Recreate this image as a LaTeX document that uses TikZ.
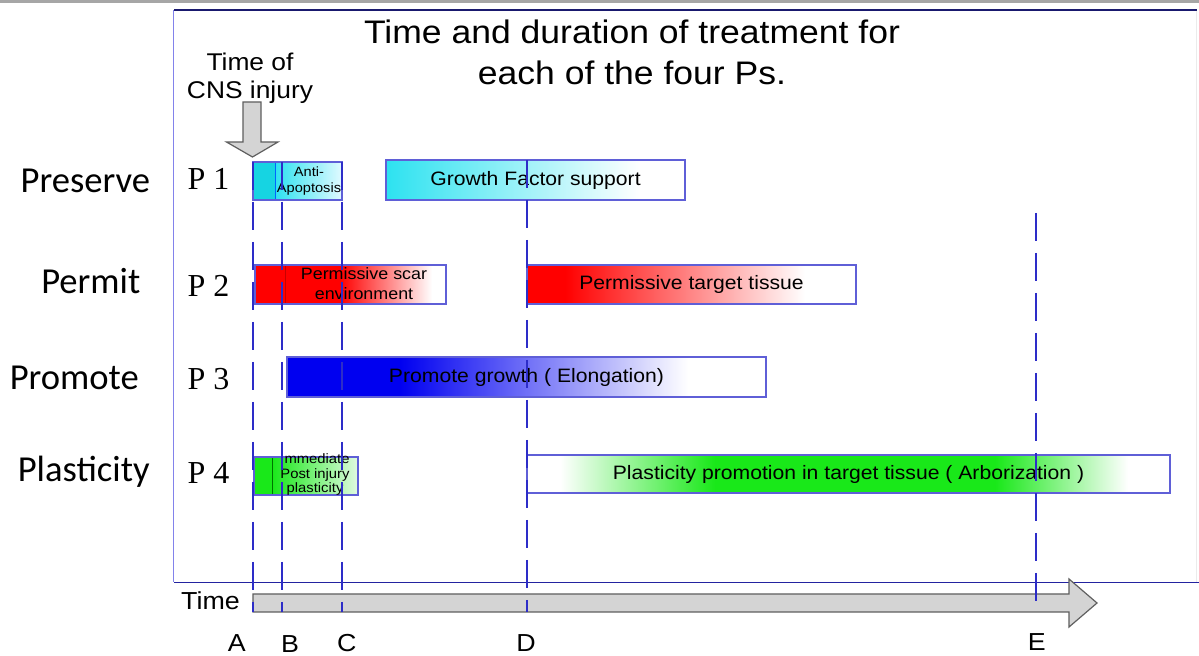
\documentclass[tikz,border=0pt]{standalone}
\usepackage{fontspec}
\setmainfont{Liberation Sans}
\newfontfamily\arialf[FakeStretch=1.09]{Liberation Sans}
\newfontfamily\calibf{Carlito}
\newfontfamily\timesf{Liberation Serif}
\definecolor{framenavy}{RGB}{25,25,110}
\definecolor{frameleft}{RGB}{130,130,235}
\definecolor{framebot}{RGB}{35,35,160}
\definecolor{dashblue}{RGB}{45,45,200}
\definecolor{boxedge}{RGB}{95,95,215}
\definecolor{cyanA}{RGB}{22,212,226}
\definecolor{cyanB}{RGB}{45,226,240}
\definecolor{cyanC}{RGB}{225,250,255}
\definecolor{redA}{RGB}{255,0,0}
\definecolor{darkred}{RGB}{200,0,0}
\definecolor{blueA}{RGB}{0,0,240}
\definecolor{greenA}{RGB}{25,232,25}
\definecolor{greenC}{RGB}{225,250,225}
\definecolor{arrowgray}{RGB}{212,212,212}
\definecolor{arrowedge}{RGB}{95,95,95}
\definecolor{stripgray}{RGB}{166,166,166}
\begin{document}
\begin{tikzpicture}[x=0.5pt,y=-0.5pt,
  bar/.style={draw=boxedge,line width=0.6pt,inner sep=0pt,font=\arialf\fontsize{9.7}{11}\selectfont},
  tline/.style={draw=dashblue,line width=0.9pt,dash pattern=on 14pt off 6pt},
  framel/.style={line width=0.8pt},
  plabel/.style={anchor=base,font=\calibf\fontsize{18.3}{20}\selectfont},
  pnum/.style={anchor=base,font=\timesf\fontsize{16}{18}\selectfont},
  ltr/.style={anchor=base,font=\arialf\fontsize{12.3}{14}\selectfont},
  ttl/.style={anchor=base,font=\arialf\fontsize{16.3}{20}\selectfont},
  cns/.style={anchor=base,font=\arialf\fontsize{12.1}{14}\selectfont},
  blockarrow/.style={fill=arrowgray,draw=arrowedge,line width=0.6pt,line join=miter},
  sepline/.style={line width=0.5pt}
]
\useasboundingbox (0,0) rectangle (1199,656);
\fill[white] (0,0) rectangle (1199,656);
\fill[stripgray] (0,0) rectangle (1199,3.5);

% frame
\draw[framel,draw=framenavy] (174,10) -- (1197,10);
\draw[framel,draw=frameleft] (173.5,10) -- (173.5,582.5);
\draw[framel,draw=framebot] (174,582.5) -- (1199,582.5);
\draw[line width=0.5pt,draw=black!8] (1196.5,11) -- (1196.5,582);

% fills
% P1 anti-apoptosis
\fill[cyanA] (253,162) rectangle (275,200);
\shade[left color=cyanB,right color=cyanC] (275,162) rectangle (342,200);
\draw[sepline,draw=blue!60!cyan] (275,162) -- (275,200);
% growth factor
\shade[left color=cyanB,right color=white] (386,160) rectangle (640,200);
% P2 scar
\fill[redA] (255,265) rectangle (340,304);
\shade[left color=redA,right color=white] (340,265) rectangle (432,304);
\draw[sepline,draw=darkred] (285,265) -- (285,304);
% P2 target
\fill[redA] (527,265) rectangle (565,304);
\shade[left color=redA,right color=white] (565,265) rectangle (805,304);
% P3 promote
\fill[blueA] (287,357) rectangle (400,397);
\shade[left color=blueA,right color=white] (400,357) rectangle (688,397);
% P4 immediate
\fill[greenA] (254,457) rectangle (272,495);
\shade[left color=greenA,right color=greenC] (272,457) rectangle (358,495);
\draw[sepline,draw=green!45!black] (272,457) -- (272,495);
% P4 arborization
\shade[left color=white,right color=greenA] (560,455) rectangle (715,493);
\fill[greenA] (715,455) rectangle (995,493);
\shade[left color=greenA,right color=white] (995,455) rectangle (1128,493);

% bar outlines
\node[bar,minimum width=44.5pt,minimum height=19pt] (antibox) at (297.5,181) {};
\node[bar,minimum width=149.5pt,minimum height=20pt] (gfbox) at (535.5,180) {Growth Factor support};
\node[bar,minimum width=95.5pt,minimum height=19.5pt] (scarbox) at (350.5,284.5) {};
\node[bar,minimum width=164.5pt,minimum height=19.5pt] (targetbox) at (691.5,284.5) {Permissive target tissue};
\node[bar,minimum width=239.5pt,minimum height=20pt] (promotebox) at (526.5,377) {Promote growth ( Elongation)};
\node[bar,minimum width=52pt,minimum height=19pt] (immbox) at (306,476) {};
\node[bar,minimum width=321.5pt,minimum height=19pt] (arborbox) at (848.5,474) {Plasticity promotion in target tissue ( Arborization )};

% small texts
\node[align=center,inner sep=0pt,font=\arialf\fontsize{6.7}{8}\selectfont] (antitxt) at (309,181) {Anti-\\Apoptosis};
\node[align=center,inner sep=0pt,font=\arialf\fontsize{8.2}{10}\selectfont] (scartxt) at (364,283.5) {Permissive scar\\environment};
\node[align=center,inner sep=0pt,font=\arialf\fontsize{6.8}{7.3}\selectfont] (immtxt) at (315,474.5) {Immediate\\Post injury\\plasticity};

% block arrows
\draw[blockarrow] (243,102) -- (261,102) -- (261,142) -- (278,142) -- (252.5,157) -- (226.5,142) -- (243,142) -- cycle;
\draw[blockarrow] (253,594) -- (1069,594) -- (1069,579) -- (1097,603) -- (1069,627) -- (1069,612) -- (253,612) -- cycle;

% time markers
\coordinate (Atop) at (253,162); \coordinate (Abot) at (253,612);
\coordinate (Btop) at (282,162); \coordinate (Bbot) at (282,612);
\coordinate (Ctop) at (342,162); \coordinate (Cbot) at (342,612);
\coordinate (Dtop) at (527,160); \coordinate (Dbot) at (527,612);
\coordinate (Etop) at (1036,213); \coordinate (Ebot) at (1036,612);
\draw[tline] (Atop) -- (Abot);
\draw[tline] (Btop) -- (Bbot);
\draw[tline] (Ctop) -- (Cbot);
\draw[tline] (Dtop) -- (Dbot);
\draw[tline] (Etop) -- (Ebot);

% titles
\node[ttl] (title1) at (632,43.3) {Time and duration of treatment for};
\node[ttl] (title2) at (632,85) {each of the four Ps.};
\node[cns] (cns1) at (250,70.7) {Time of};
\node[cns] (cns2) at (250,99) {CNS injury};

% left labels
\node[plabel] (preserve) at (85.3,192.7) {Preserve};
\node[plabel] (permit) at (90.8,294) {Permit};
\node[plabel] (promote) at (74.3,389.3) {Promote};
\node[plabel] (plasticity) at (83.7,481.7) {Plasticity};

\node[pnum] (p1) at (208.5,189.5) {P 1};
\node[pnum] (p2) at (208.5,296.5) {P 2};
\node[pnum] (p3) at (208.5,389.5) {P 3};
\node[pnum] (p4) at (208.5,484) {P 4};

% time axis labels
\node[ltr] (timelbl) at (210.5,610) {Time};
\node[ltr] (la) at (236.7,652) {A};
\node[ltr] (lb) at (290,653) {B};
\node[ltr] (lc) at (346.7,652) {C};
\node[ltr] (ld) at (526,652) {D};
\node[ltr] (le) at (1036.7,651) {E};
\end{tikzpicture}
\end{document}
